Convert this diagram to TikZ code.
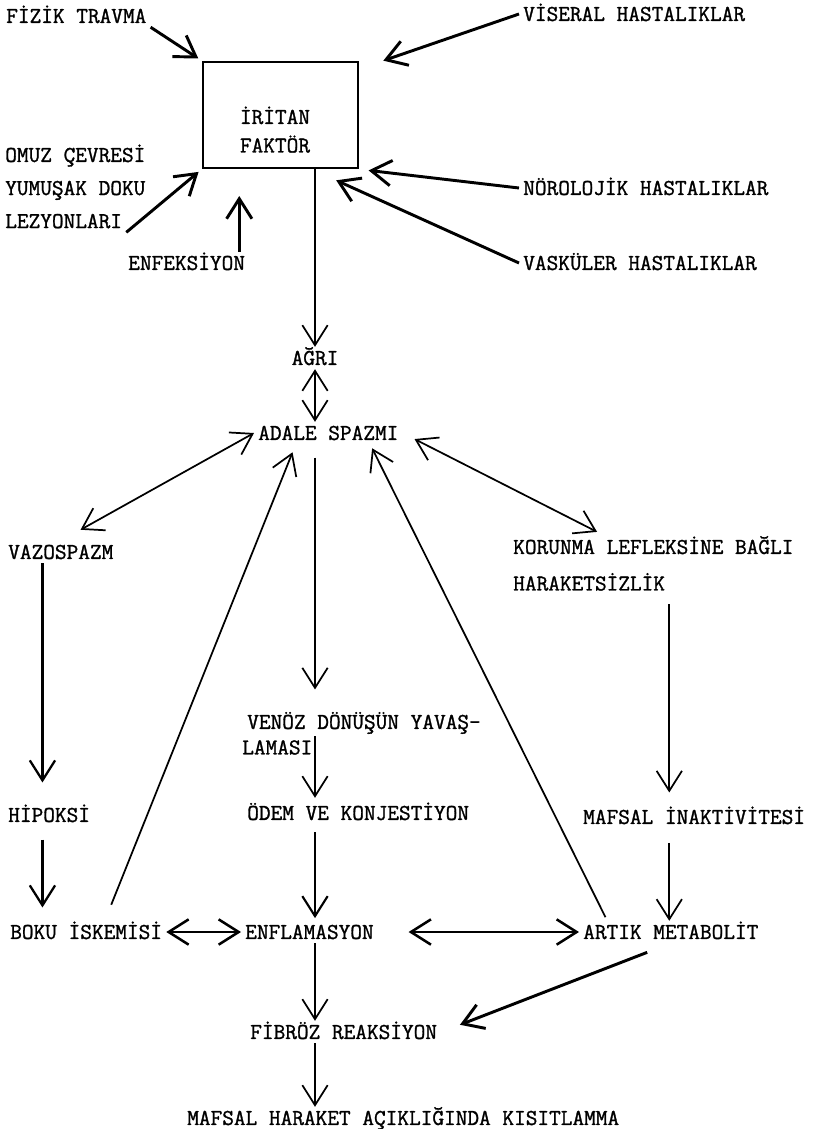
\documentclass[tikz,border=0pt]{standalone}
\usepackage{fontspec}
\newfontfamily\typew{Latin Modern Mono}[FakeBold=1.2]
\usepackage{tikz}
\usetikzlibrary{arrows.meta,positioning}

\begin{document}
\begin{tikzpicture}[x=0.75pt,y=-0.75pt,
  lbl/.style={font=\typew\fontsize{17}{20}\selectfont,inner sep=3pt,
              text height=10.4pt,text depth=0pt,anchor=west},
  fbox/.style={draw,line width=2pt,minimum width=116.25pt,minimum height=79.5pt,inner sep=0pt},
  arr/.style={-{Straight Barb[length=15pt,width=19pt]},line width=1.3pt},
  darr/.style={{Straight Barb[length=15pt,width=19pt]}-{Straight Barb[length=15pt,width=19pt]},line width=1.3pt},
  thk/.style={arr,line width=2.2pt}]
  \useasboundingbox (0,0) rectangle (816,1129);
  \fill[white] (0,0) rectangle (816,1129);
  % causes
  \node[lbl] (ftr) at (2,16) {FİZİK TRAVMA};
  \node[lbl] (vis) at (519,14) {VİSERAL HASTALIKLAR};
  \node[fbox] (irt) at (280.5,115) {};
  \node[lbl,anchor=center] (irt1) at (275,117) {İRİTAN};
  \node[lbl,below=4.6pt of irt1] (irt2) {FAKTÖR};
  \node[lbl] (omuz) at (1,155) {OMUZ ÇEVRESİ};
  \node[lbl,below=8pt of omuz.south west,anchor=north west] (yum) {YUMUŞAK DOKU};
  \node[lbl,below=8pt of yum.south west,anchor=north west] (lez) {LEZYONLARI};
  \node[lbl] (enf) at (124,263) {ENFEKSİYON};
  \node[lbl] (nor) at (519,188) {NÖROLOJİK HASTALIKLAR};
  \node[lbl] (vas) at (519,263) {VASKÜLER HASTALIKLAR};
  % chain
  \node[lbl,anchor=center] (agri) at (315,358) {AĞRI};
  \node[lbl] (adale) at (254,433) {ADALE SPAZMI};
  \node[lbl] (vaz) at (4,552) {VAZOSPAZM};
  \node[lbl] (kor) at (509,547) {KORUNMA LEFLEKSİNE BAĞLI};
  \node[lbl,below=10.6pt of kor.south west,anchor=north west] (har) {HARAKETSİZLİK};
  \node[lbl] (venoz) at (243,722) {VENÖZ DÖNÜŞÜN YAVAŞ-};
  \node[lbl,below=2.3pt of venoz.south west,anchor=north west,xshift=-3.75pt] (lamasi) {LAMASI};
  \node[lbl] (odem) at (243,813) {ÖDEM VE KONJESTİYON};
  \node[lbl] (hip) at (4,815) {HİPOKSİ};
  \node[lbl] (mafin) at (579,817) {MAFSAL İNAKTİVİTESİ};
  \node[lbl] (boku) at (6,932) {BOKU İSKEMİSİ};
  \node[lbl] (enfl) at (241,932) {ENFLAMASYON};
  \node[lbl] (artik) at (579,932) {ARTIK METABOLİT};
  \node[lbl] (fib) at (246,1032) {FİBRÖZ REAKSİYON};
  \node[lbl] (mafh) at (183,1118) {MAFSAL HARAKET AÇIKLIĞINDA KISITLAMMA};

  \draw[thk,shorten >=3pt] (ftr.south east) -- (irt.north west);
  \draw[thk] (vis.west) -- ([xshift=18pt]irt.north east);
  \draw[thk,shorten >=3pt] (lez.south east) -- (irt.south west);
  \draw[thk,shorten >=20pt] ([xshift=-7.5pt]enf.north east) -- ([xshift=-7.5pt]enf.north east |- irt.south);
  \draw[thk,shorten >=7pt] (nor.west) -- (irt.south east);
  \draw[thk,shorten >=20pt] (vas.west) -- (irt.-60);
  \draw[arr] (irt.south -| agri.north) -- (agri.north);
  \draw[darr] (agri.south) -- (agri.south |- adale.north);
  \draw[darr,shorten >=17pt] (adale.west) -- (vaz.north);
  \draw[darr,shorten <=10pt,shorten >=6.5pt] (adale.east) -- (kor.167);
  \draw[arr,line width=1.7pt,shorten >=16pt] ([xshift=-5pt]hip.north |- vaz.south) -- ([xshift=-5pt]hip.north);
  \draw[arr,line width=1.7pt,shorten <=10pt,shorten >=10pt] ([xshift=-5pt]hip.south) -- ([xshift=-5pt]hip.south |- boku.north);
  \draw[arr,shorten <=13pt,shorten >=6.5pt] (boku.31) -- (adale.199);
  \draw[arr,shorten <=3pt,shorten >=3.4pt] (artik.170) -- (adale.-15);
  \draw[arr,shorten <=10pt,shorten >=16pt] (agri |- adale.south) -- (agri |- venoz.north);
  \draw[arr,shorten >=3pt] (agri |- lamasi.north) -- (agri |- odem.north);
  \draw[arr,line width=1.6pt,shorten <=6pt,shorten >=2pt] (agri |- odem.south) -- (agri |- enfl.north);
  \draw[darr,line width=1.9pt] (boku.east) -- (enfl.west);
  \draw[darr,line width=1.9pt,shorten <=23pt] (enfl.east) -- (artik.west);
  \draw[arr,shorten <=7pt,shorten >=10pt] (har.south east) -- (har.south east |- mafin.north);
  \draw[arr,shorten <=11pt] (har.south east |- mafin.south) -- (har.south east |- artik.north);
  \draw[thk,shorten <=19pt,shorten >=15pt] (artik.south) -- (fib.east);
  \draw[arr] (agri |- enfl.south) -- (agri |- fib.north);
  \draw[arr] (agri |- fib.south) -- (agri |- mafh.north);
\end{tikzpicture}
\end{document}
